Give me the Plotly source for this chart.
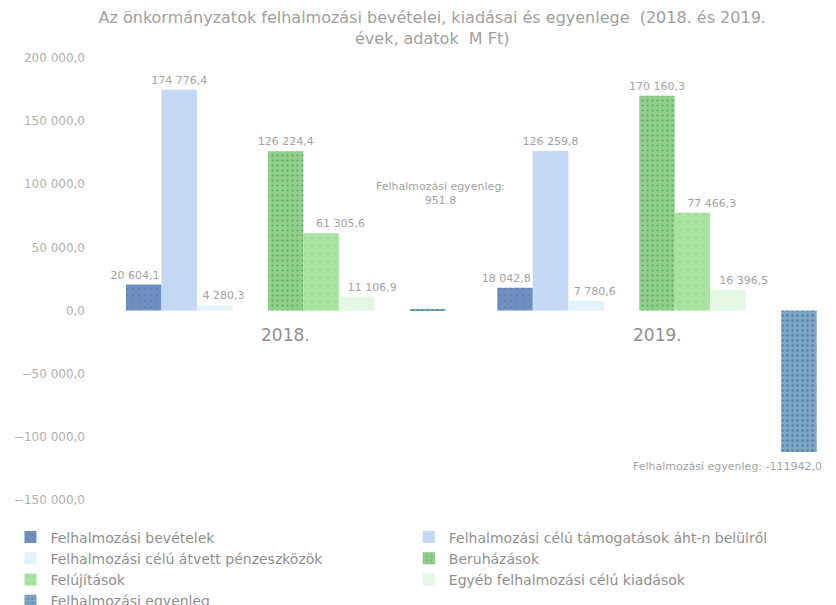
import plotly.graph_objects as go

categories = ["2018.", "2019."]
bevetelek = [20604.1, 18042.8]
tamogatasok = [174776.4, 126259.8]
atvett = [4280.3, 7780.6]
beruhazasok = [126224.4, 170160.3]
felujitasok = [61305.6, 77466.3]
egyeb = [11106.9, 16396.5]
egyenleg = [951.8, -111942.0]
egyenleg_text = ["951.8", "-111942,0"]

series_names = [
    "Felhalmozási bevételek",
    "Felhalmozási célú támogatások áht-n belülről",
    "Felhalmozási célú átvett pénzeszközök",
    "Beruházások",
    "Felújítások",
    "Egyéb felhalmozási célú kiadások",
    "Felhalmozási egyenleg",
]

FONT = "DejaVu Sans"
TXT = "#a3a3a3"
NB = "\u00a0"

# (name, values, color, pattern, show label, legend, label padding (left, right))
series = [
    (series_names[0], bevetelek, "#6f8fbf",
     dict(shape=".", fgcolor="#4f6f9f", size=6, solidity=0.1), True, "legend", (0, 5)),
    (series_names[1], tamogatasok, "#c2d8f4", None, True, "legend2", (0, 0)),
    (series_names[2], atvett, "#e2f1fa", None, True, "legend", (5, 0)),
    ("spacer1", [None, None], "rgba(0,0,0,0)", None, False, None, (0, 0)),
    (series_names[3], beruhazasok, "#90cf8c",
     dict(shape=".", fgcolor="#2f7f3a", size=5, solidity=0.15), True, "legend2", (0, 0)),
    (series_names[4], felujitasok, "#a9e4a3",
     dict(shape=".", fgcolor="#6fbf6f", size=8, solidity=0.05), True, "legend", (11, 0)),
    (series_names[5], egyeb, "#e4f6e4", None, True, "legend2", (9, 0)),
    ("spacer2", [None, None], "rgba(0,0,0,0)", None, False, None, (0, 0)),
    (series_names[6], egyenleg, "#7ba6c6",
     dict(shape=".", fgcolor="#2f5f78", size=5, solidity=0.2), False, "legend", (0, 0)),
]

fig = go.Figure()

# bars
for name, values, color, pattern, label, legend, pad in series:
    marker = dict(color=color, line=dict(width=0))
    if pattern:
        marker["pattern"] = pattern
    fig.add_trace(go.Bar(
        name=name, x=categories, y=values, marker=marker,
        showlegend=legend is not None, legend=legend or "legend",
        xaxis="x", yaxis="y",
    ))

# value labels on an overlaid axis pair so they sit above all bars
for name, values, color, pattern, label, legend, pad in series:
    tmpl = NB * pad[0] + "%{y:,.1f}" + NB * pad[1]
    fig.add_trace(go.Bar(
        name=name, x=categories, y=values,
        marker=dict(color="rgba(0,0,0,0)", line=dict(width=0)),
        text=values if label else None,
        texttemplate=tmpl if label else None,
        textposition="outside" if label else None,
        constraintext="none", cliponaxis=False,
        textfont=dict(color=TXT, size=11, family=FONT),
        showlegend=False, hoverinfo="skip",
        xaxis="x2", yaxis="y2",
    ))

annotations = [
    dict(x=0.418, y=92800, xref="x", yref="y",
         text="Felhalmozási egyenleg:<br>" + egyenleg_text[0],
         showarrow=False, font=dict(size=11, color=TXT, family=FONT)),
    dict(x=1.45, y=-123800, xref="x", yref="y", xanchor="right",
         text="Felhalmozási egyenleg: " + egyenleg_text[1],
         showarrow=False, font=dict(size=11, color=TXT, family=FONT)),
]
for i, c in enumerate(categories):
    annotations.append(dict(x=i, y=0, xref="x", yref="y", yanchor="top",
                            yshift=-12, text=c, showarrow=False,
                            font=dict(size=17, color="#8f8f8f", family=FONT)))

legend_common = dict(orientation="h", xref="container", yref="container",
                     yanchor="top", xanchor="left", itemwidth=30,
                     entrywidth=420, entrywidthmode="pixels",
                     font=dict(size=14, color="#8f8f8f", family=FONT),
                     traceorder="normal", bgcolor="rgba(0,0,0,0)")

xrange = [-0.5, 1.482]
yrange = [-150000, 200000]

fig.update_layout(
    width=836, height=605,
    paper_bgcolor="white", plot_bgcolor="white",
    margin=dict(l=100, r=0, t=58, b=105),
    separators=", ",
    barmode="group", bargap=0.14, bargroupgap=0,
    font=dict(family=FONT, color=TXT),
    title=dict(
        text="Az önkormányzatok felhalmozási bevételei, kiadásai és egyenlege  (2018. és 2019.<br>évek, adatok  M Ft)",
        x=0.517, xref="container", xanchor="center",
        y=0.962, yref="container", yanchor="top",
        font=dict(size=16, color="#a0a0a0", family=FONT),
    ),
    xaxis=dict(type="category", range=xrange, showticklabels=False,
               showline=False, showgrid=False, zeroline=False, ticks="",
               automargin=False),
    yaxis=dict(range=yrange, dtick=50000, tickformat=",.1f",
               showgrid=False, zeroline=False, showline=False, ticks="",
               ticklabelstandoff=14, automargin=False,
               tickfont=dict(size=12, color="#b0b0b0", family=FONT)),
    xaxis2=dict(type="category", range=xrange, overlaying="x", anchor="y2",
                visible=False, automargin=False),
    yaxis2=dict(range=yrange, overlaying="y", anchor="x2", visible=False,
                automargin=False),
    legend=dict(x=0.0125, y=0.138, **legend_common),
    legend2=dict(x=0.489, y=0.138, **legend_common),
    annotations=annotations,
)

fig.write_html("out.html", config={"displayModeBar": False},
               post_script="document.body.style.margin='0';")
